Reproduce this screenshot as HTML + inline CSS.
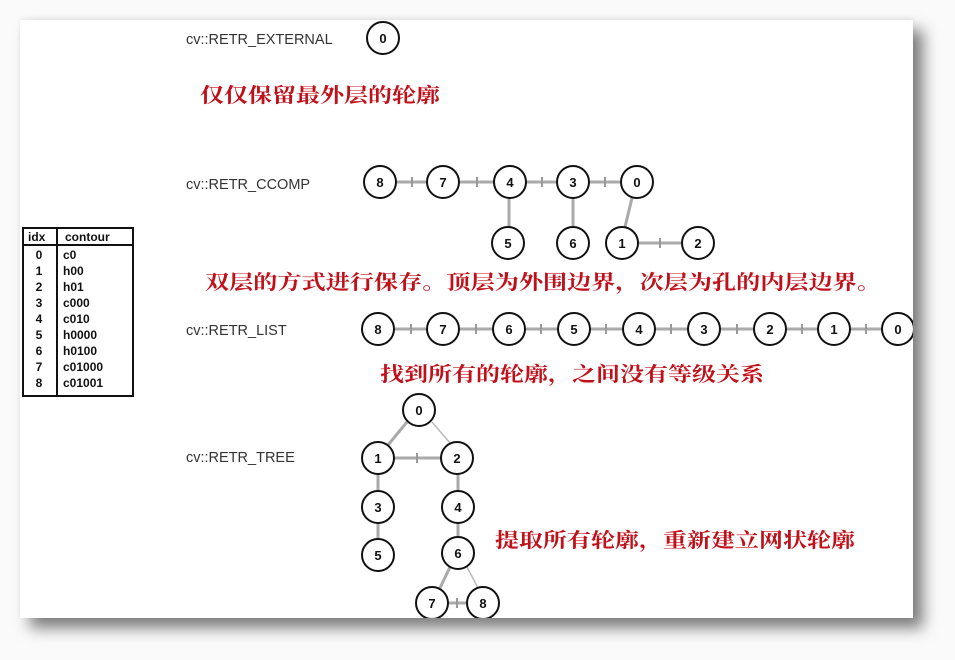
<!DOCTYPE html>
<html><head><meta charset="utf-8"><style>
html,body{margin:0;padding:0;background:#fafafa;width:955px;height:660px;overflow:hidden;}
#p{position:absolute;left:20px;top:20px;width:893px;height:598px;background:#fff;box-shadow:10px 10px 14px rgba(0,0,0,0.5), 0 -2px 4px rgba(0,0,0,0.06);}
svg{position:absolute;left:0;top:0;}
</style></head><body>
<div id="p"></div>
<svg width="955" height="660" viewBox="0 0 955 660">
<defs><clipPath id="c"><rect x="20" y="20" width="893" height="598"/></clipPath></defs>
<g clip-path="url(#c)">
<g font-family="Liberation Sans, Arial, sans-serif" font-size="14.5" fill="#333">
<text x="186" y="44">cv::RETR_EXTERNAL</text>
<text x="186" y="189">cv::RETR_CCOMP</text>
<text x="186" y="335">cv::RETR_LIST</text>
<text x="186" y="462">cv::RETR_TREE</text>
</g>
<g font-family="Liberation Serif, 'Noto Serif CJK SC', serif" font-size="20" font-weight="bold" fill="#c0101a">
<text x="200" y="102" textLength="240" lengthAdjust="spacingAndGlyphs">仅仅保留最外层的轮廓</text>
<text x="205" y="289" textLength="676" lengthAdjust="spacingAndGlyphs">双层的方式进行保存。顶层为外围边界，次层为孔的内层边界。</text>
<text x="380" y="381" textLength="384" lengthAdjust="spacingAndGlyphs">找到所有的轮廓，之间没有等级关系</text>
<text x="495" y="547" textLength="360" lengthAdjust="spacingAndGlyphs">提取所有轮廓，重新建立网状轮廓</text>
</g>
<g stroke="#111" stroke-width="2" fill="none">
<rect x="23" y="228" width="110" height="168"/>
<line x1="57" y1="228" x2="57" y2="396"/>
<line x1="23" y1="245" x2="133" y2="245"/>
</g>
<g font-family="Liberation Sans, Arial, sans-serif" font-size="12" font-weight="bold" fill="#111">
<text x="28" y="241">idx</text><text x="65" y="241">contour</text>
<g text-anchor="middle">
<text x="39" y="259">0</text><text x="39" y="275">1</text><text x="39" y="291">2</text><text x="39" y="307">3</text><text x="39" y="323">4</text><text x="39" y="339">5</text><text x="39" y="355">6</text><text x="39" y="371">7</text><text x="39" y="387">8</text>
</g>
<text x="63" y="259">c0</text><text x="63" y="275">h00</text><text x="63" y="291">h01</text><text x="63" y="307">c000</text><text x="63" y="323">c010</text><text x="63" y="339">h0000</text><text x="63" y="355">h0100</text><text x="63" y="371">c01000</text><text x="63" y="387">c01001</text>
</g>
<g stroke="#aaa" stroke-width="3">
<line x1="396" y1="182" x2="427" y2="182"/><line x1="459" y1="182" x2="494" y2="182"/><line x1="526" y1="182" x2="557" y2="182"/><line x1="589" y1="182" x2="621" y2="182"/>
<line x1="509" y1="198" x2="509" y2="227"/><line x1="573" y1="198" x2="573" y2="227"/><line x1="632" y1="198" x2="625" y2="227"/><line x1="638" y1="243" x2="682" y2="243"/>
<line x1="394" y1="329" x2="427" y2="329"/><line x1="459" y1="329" x2="493" y2="329"/><line x1="525" y1="329" x2="558" y2="329"/><line x1="590" y1="329" x2="623" y2="329"/><line x1="655" y1="329" x2="688" y2="329"/><line x1="720" y1="329" x2="754" y2="329"/><line x1="786" y1="329" x2="818" y2="329"/><line x1="850" y1="329" x2="882" y2="329"/>
<line x1="407" y1="422" x2="388" y2="445"/><line x1="394" y1="458" x2="441" y2="458"/>
<line x1="378" y1="474" x2="378" y2="491"/><line x1="378" y1="523" x2="378" y2="539"/>
<line x1="458" y1="474" x2="458" y2="491"/><line x1="458" y1="523" x2="458" y2="537"/>
<line x1="450" y1="567" x2="440" y2="588"/><line x1="448" y1="603" x2="467" y2="603"/>
</g>
<g stroke="#bbb" stroke-width="1.5">
<line x1="432" y1="422" x2="450" y2="443"/><line x1="467" y1="567" x2="478" y2="588"/>
</g>
<g stroke="#999" stroke-width="2">
<line x1="412" y1="177" x2="412" y2="187"/><line x1="477" y1="177" x2="477" y2="187"/><line x1="542" y1="177" x2="542" y2="187"/><line x1="605" y1="177" x2="605" y2="187"/><line x1="660" y1="238" x2="660" y2="248"/>
<line x1="411" y1="324" x2="411" y2="334"/><line x1="476" y1="324" x2="476" y2="334"/><line x1="541" y1="324" x2="541" y2="334"/><line x1="606" y1="324" x2="606" y2="334"/><line x1="671" y1="324" x2="671" y2="334"/><line x1="737" y1="324" x2="737" y2="334"/><line x1="802" y1="324" x2="802" y2="334"/><line x1="866" y1="324" x2="866" y2="334"/>
<line x1="417" y1="453" x2="417" y2="463"/><line x1="457" y1="598" x2="457" y2="608"/>
</g>
<g stroke="#111" stroke-width="2" fill="#fff">
<circle cx="383" cy="38" r="16"/>
<circle cx="380" cy="182" r="16"/><circle cx="443" cy="182" r="16"/><circle cx="510" cy="182" r="16"/><circle cx="573" cy="182" r="16"/><circle cx="637" cy="182" r="16"/>
<circle cx="508" cy="243" r="16"/><circle cx="573" cy="243" r="16"/><circle cx="622" cy="243" r="16"/><circle cx="698" cy="243" r="16"/>
<circle cx="378" cy="329" r="16"/><circle cx="443" cy="329" r="16"/><circle cx="509" cy="329" r="16"/><circle cx="574" cy="329" r="16"/><circle cx="639" cy="329" r="16"/><circle cx="704" cy="329" r="16"/><circle cx="770" cy="329" r="16"/><circle cx="834" cy="329" r="16"/><circle cx="898" cy="329" r="16"/>
<circle cx="419" cy="410" r="16"/><circle cx="378" cy="458" r="16"/><circle cx="457" cy="458" r="16"/><circle cx="378" cy="507" r="16"/><circle cx="458" cy="507" r="16"/><circle cx="378" cy="555" r="16"/><circle cx="458" cy="553" r="16"/><circle cx="432" cy="603" r="16"/><circle cx="483" cy="603" r="16"/>
</g>
<g font-family="Liberation Sans, Arial, sans-serif" font-size="13" font-weight="bold" fill="#111" text-anchor="middle">
<text x="383" y="43">0</text>
<text x="380" y="187">8</text><text x="443" y="187">7</text><text x="510" y="187">4</text><text x="573" y="187">3</text><text x="637" y="187">0</text>
<text x="508" y="248">5</text><text x="573" y="248">6</text><text x="622" y="248">1</text><text x="698" y="248">2</text>
<text x="378" y="334">8</text><text x="443" y="334">7</text><text x="509" y="334">6</text><text x="574" y="334">5</text><text x="639" y="334">4</text><text x="704" y="334">3</text><text x="770" y="334">2</text><text x="834" y="334">1</text><text x="898" y="334">0</text>
<text x="419" y="415">0</text><text x="378" y="463">1</text><text x="457" y="463">2</text><text x="378" y="512">3</text><text x="458" y="512">4</text><text x="378" y="560">5</text><text x="458" y="558">6</text><text x="432" y="608">7</text><text x="483" y="608">8</text>
</g>
</g>
</svg>
</body></html>
